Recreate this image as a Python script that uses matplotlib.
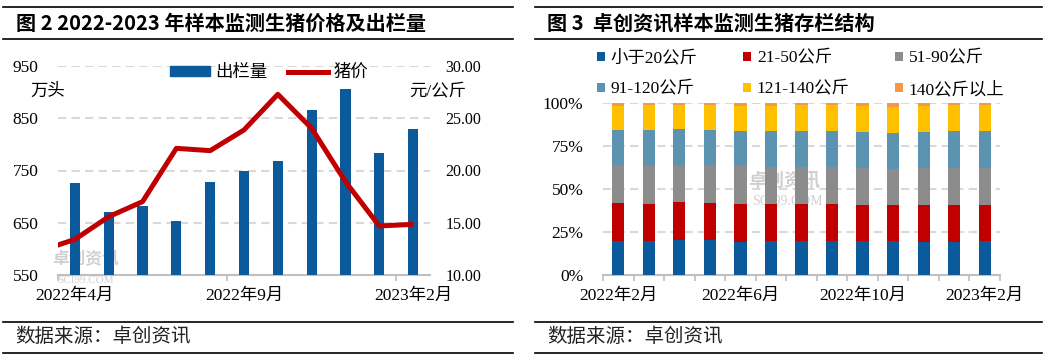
import matplotlib
matplotlib.use("Agg")
import matplotlib.pyplot as plt
import numpy as np
from matplotlib.lines import Line2D
from matplotlib.patches import Patch

plt.rcParams["font.family"] = ["Liberation Serif", "Noto Sans CJK SC", "DejaVu Sans"]
plt.rcParams["axes.unicode_minus"] = False

# %% Data
out_months = ["2022年4月", "2022年5月", "2022年6月", "2022年7月", "2022年8月", "2022年9月",
              "2022年10月", "2022年11月", "2022年12月", "2023年1月", "2023年2月"]
out_volume = [726, 671, 682, 653, 728, 749, 768, 866, 906, 783, 829]
# price starts one month earlier (2022年3月), clipped at the left edge
price_months = ["2022年3月"] + out_months
price = [12.33, 13.41, 15.58, 17.02, 22.12, 21.90, 23.88, 27.29, 24.04, 18.93, 14.69, 14.85]

stock_months = ["2022年2月", "2022年3月", "2022年4月", "2022年5月", "2022年6月", "2022年7月",
                "2022年8月", "2022年9月", "2022年10月", "2022年11月", "2022年12月",
                "2023年1月", "2023年2月"]
w_lt20 = [19.7, 19.7, 20.5, 20.5, 19.1, 19.7, 19.7, 19.7, 19.7, 19.7, 19.1, 19.1, 19.7]
w_21_50 = [22.1, 21.5, 21.9, 21.3, 22.1, 21.5, 21.5, 21.5, 20.9, 20.9, 21.5, 21.5, 20.9]
w_51_90 = [22.0, 22.0, 21.4, 22.0, 22.0, 21.5, 21.5, 21.5, 21.5, 20.9, 21.5, 21.5, 21.5]
w_91_120 = [20.3, 20.9, 20.9, 20.3, 20.4, 20.9, 20.9, 20.9, 20.9, 20.9, 20.9, 21.5, 21.5]
w_121_140 = [14.2, 14.5, 13.9, 14.5, 14.5, 14.5, 15.0, 15.0, 15.1, 15.1, 15.1, 15.0, 15.0]
w_gt140 = [1.7, 1.4, 1.4, 1.4, 1.9, 1.9, 1.4, 1.4, 1.9, 2.5, 1.9, 1.4, 1.4]
stock_labels = ["小于20公斤", "21-50公斤", "51-90公斤", "91-120公斤", "121-140公斤", "140公斤以上"]
stock_colors = ["#0a5a9c", "#c00000", "#8c8c8c", "#5b93b0", "#ffc000", "#f79646"]

W, H = 1046, 359
fig = plt.figure(figsize=(W / 100, H / 100), dpi=100)


def fx(px):
    return px / W


def fy(py):
    return 1 - py / H


grid_kw = dict(color="#d9d9d9", lw=1.5, ls=(0, (4, 2.5)))

# %% Frame lines, titles and sources
for x0, x1 in [(3, 513), (535, 1042)]:
    for yy in [7, 39, 322, 353]:
        fig.add_artist(Line2D([fx(x0), fx(x1)], [fy(yy), fy(yy)], color="black", lw=1.2))

title_kw = dict(fontsize=14.5, fontweight="bold", va="center", ha="left",
                family=["Noto Sans CJK SC"])
fig.text(fx(16), fy(23), "图 2 2022-2023 年样本监测生猪价格及出栏量", **title_kw)
fig.text(fx(547), fy(23), "图 3  卓创资讯样本监测生猪存栏结构", **title_kw)
src_kw = dict(fontsize=14, va="center", ha="left", family=["Noto Sans CJK SC"], color="#222222")
fig.text(fx(15), fy(337), "数据来源：卓创资讯", **src_kw)
fig.text(fx(547), fy(337), "数据来源：卓创资讯", **src_kw)

# %% Left chart: volume bars and price line
ax = fig.add_axes([fx(58), fy(275), fx(430 - 58), (275 - 66) / H])
x = np.arange(len(out_months))
ax.bar(x, out_volume, width=0.3, color="#0a5a9c", zorder=3)
ax.set(ylim=(550, 950), xlim=(-0.5, len(out_months) - 0.5))
ax.set_yticks(np.arange(550, 951, 100))
for yv in np.arange(650, 951, 100):
    ax.axhline(yv, zorder=1, **grid_kw)
ax.set_xticks(x[::5])
ax.set_xticklabels([out_months[i] for i in x[::5]])
ax.set_xticks(np.arange(-0.5, len(out_months), 5), minor=True)
ax.tick_params(axis="x", which="major", length=0, pad=9, labelsize=12.5)
ax.tick_params(axis="x", which="minor", length=4, color="#bfbfbf", width=1.2)
ax.tick_params(axis="y", length=0, pad=14, labelsize=12.5)
for s in ["top", "left", "right"]:
    ax.spines[s].set_visible(False)
ax.spines["bottom"].set_color("#bfbfbf")
ax.spines["bottom"].set_linewidth(1.5)
ax.text(fx(30), fy(92), "万头", transform=fig.transFigure, fontsize=12.5, va="center", ha="left")

ax2 = ax.twinx()
ax2.plot(np.arange(-1, len(out_months)), price, color="#c00000", lw=3.6,
         solid_joinstyle="round", solid_capstyle="butt", zorder=4)
ax2.set_ylim(10, 30)
ax2.set_yticks(np.arange(10, 31, 5))
ax2.set_yticklabels([f"{v:.2f}" for v in np.arange(10, 31, 5)])
ax2.tick_params(axis="y", length=0, pad=11, labelsize=11.5)
for s in ["top", "left", "right", "bottom"]:
    ax2.spines[s].set_visible(False)
ax2.text(fx(409), fy(92), "元/公斤", transform=fig.transFigure, fontsize=12.5, va="center", ha="left")

# watermark
wm_kw = dict(transform=fig.transFigure, color="#d0d0d0", zorder=0)
ax.text(fx(52), fy(264), "卓创资讯", fontsize=12, fontweight="bold", **wm_kw)
ax.text(fx(57), fy(283), "SCI99.COM", fontsize=8, **wm_kw)

handles = [Patch(color="#0a5a9c"), Line2D([], [], color="#c00000", lw=3.6)]
ax2.legend(handles, ["出栏量", "猪价"], ncol=2, loc="center", bbox_to_anchor=(0.567, 0.966),
           frameon=False, fontsize=12.5, handlelength=2.3, handleheight=0.5,
           handletextpad=0.3, columnspacing=1.2, borderpad=0)

# %% Right chart: stacked structure
bx = fig.add_axes([fx(603), fy(275), fx(1000 - 603), (275 - 102.7) / H])
xs = np.arange(len(stock_months))
series = [w_lt20, w_21_50, w_51_90, w_91_120, w_121_140, w_gt140]
totals = np.sum(series, axis=0)
bottom = np.zeros(len(xs))
bars = []
for vals, lab, col in zip(series, stock_labels, stock_colors):
    share = np.array(vals) / totals
    bars.append(bx.bar(xs, share, bottom=bottom, width=0.4, color=col, label=lab, zorder=3))
    bottom += share
bx.set(ylim=(0, 1), xlim=(-0.5, len(xs) - 0.5))
bx.set_yticks([0, 0.25, 0.5, 0.75, 1.0])
bx.set_yticklabels(["0%", "25%", "50%", "75%", "100%"])
for yv in [0.25, 0.5, 0.75, 1.0]:
    bx.axhline(yv, zorder=1, **grid_kw)
bx.set_xticks(xs[::4])
bx.set_xticklabels([stock_months[i] for i in xs[::4]])
bx.set_xticks(np.arange(-0.5, len(xs), 1), minor=True)
bx.tick_params(axis="x", which="major", length=0, pad=9, labelsize=12.5)
bx.tick_params(axis="x", which="minor", length=4, color="#bfbfbf", width=1.2)
bx.tick_params(axis="y", length=0, pad=14, labelsize=12.5)
for s in ["top", "left", "right"]:
    bx.spines[s].set_visible(False)
bx.spines["bottom"].set_color("#bfbfbf")
bx.spines["bottom"].set_linewidth(1.5)
bx.text(fx(748), fy(186), "卓创资讯", fontsize=13, fontweight="bold", **wm_kw)
bx.text(fx(752), fy(205), "SCI99.COM", fontsize=10, **wm_kw)

# legend filled row by row (matplotlib fills by column)
order = [0, 3, 1, 4, 2, 5]
leg = bx.legend([bars[i] for i in order], [stock_labels[i] for i in order], ncol=3,
                loc="upper left", bbox_to_anchor=(fx(597), fy(50)),
                bbox_transform=fig.transFigure, frameon=False, fontsize=12.5,
                handlelength=0.45, handleheight=0.45, handletextpad=0.35,
                columnspacing=2.6, labelspacing=0.85, borderpad=0, borderaxespad=0)

fig.savefig("out.png", dpi=100)
